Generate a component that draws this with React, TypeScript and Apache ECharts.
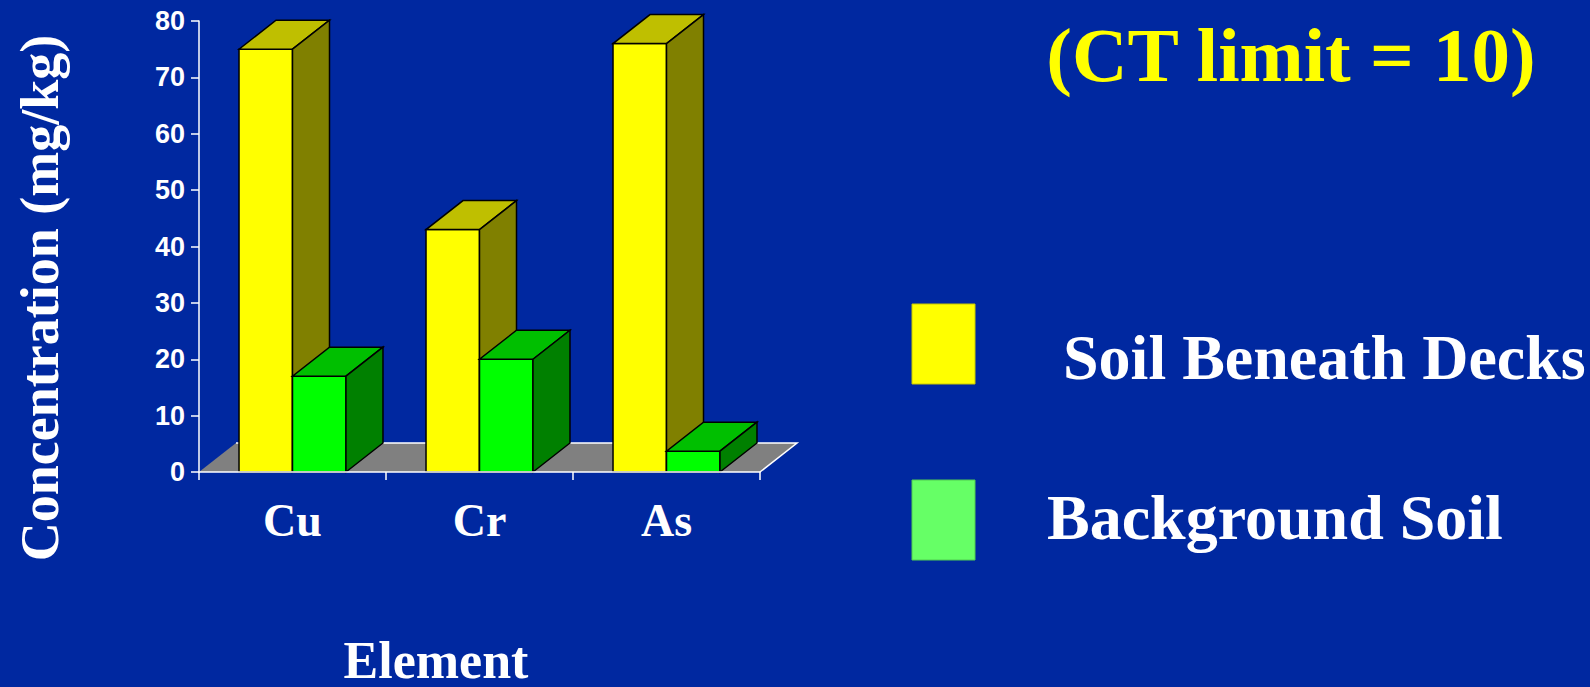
import React, { useEffect, useRef } from "react";
import * as echarts from "echarts";

// Element concentrations (mg/kg)
const categories = ["Cu", "Cr", "As"];
const seriesNames = ["Soil Beneath Decks", "Background Soil"];
const soilBeneathDecks = [75, 43, 76];
const backgroundSoil = [17, 20, 3.7];

const titleText = "(CT limit = 10)";
const yAxisTitle = "Concentration (mg/kg)";
const xAxisTitle = "Element";

// 3D look: depth offset of bars and floor, and bar width as share of a category
const DEPTH_X = 37;
const DEPTH_Y = -29;
const BAR_FRACTION = 0.286;

const BG = "#0028A0";
const SERIF = '"Liberation Serif", "Times New Roman", serif';
const SANS = '"Liberation Sans", Arial, sans-serif';

const yellowFaces = { front: "#FFFF00", top: "#BFBF00", side: "#808000" };
const greenFaces = { front: "#00FF00", top: "#00BF00", side: "#008000" };

function barRenderer(slot: number, faces: { front: string; top: string; side: string }) {
  return (params: any, api: any) => {
    const idx = api.value(0);
    const val = api.value(1);
    const [cx, yTop] = api.coord([idx, val]);
    const yBase = api.coord([idx, 0])[1];
    const bw = api.size([1, 0])[0] * BAR_FRACTION;
    const x0 = cx + slot * bw;
    const x1 = x0 + bw;
    const edge = { stroke: "#000000", lineWidth: 1.5, lineJoin: "miter" };
    return {
      type: "group",
      children: [
        {
          type: "polygon",
          shape: { points: [[x0, yBase], [x1, yBase], [x1, yTop], [x0, yTop]] },
          style: { fill: faces.front, ...edge },
        },
        {
          type: "polygon",
          shape: {
            points: [
              [x0, yTop],
              [x1, yTop],
              [x1 + DEPTH_X, yTop + DEPTH_Y],
              [x0 + DEPTH_X, yTop + DEPTH_Y],
            ],
          },
          style: { fill: faces.top, ...edge },
        },
        {
          type: "polygon",
          shape: {
            points: [
              [x1, yBase],
              [x1 + DEPTH_X, yBase + DEPTH_Y],
              [x1 + DEPTH_X, yTop + DEPTH_Y],
              [x1, yTop],
            ],
          },
          style: { fill: faces.side, ...edge },
        },
      ],
    };
  };
}

function floorRenderer(params: any) {
  const cs = params.coordSys;
  const xl = cs.x;
  const xr = cs.x + cs.width;
  const yb = cs.y + cs.height;
  return {
    type: "group",
    children: [
      {
        type: "polygon",
        shape: {
          points: [
            [xl, yb],
            [xr, yb],
            [xr + DEPTH_X, yb + DEPTH_Y],
            [xl + DEPTH_X, yb + DEPTH_Y],
          ],
        },
        style: { fill: "#808080", stroke: "none" },
      },
      {
        type: "polyline",
        shape: {
          points: [
            [xl + DEPTH_X, yb + DEPTH_Y],
            [xr + DEPTH_X, yb + DEPTH_Y],
            [xr, yb],
          ],
        },
        style: { stroke: "#FFFFFF", lineWidth: 1.5, fill: "none" },
      },
    ],
  };
}

export default function App() {
  const ref = useRef<HTMLDivElement>(null);

  useEffect(() => {
    if (!ref.current) return;
    const chart = echarts.init(ref.current, undefined, { renderer: "svg" });

    const option: any = {
      animation: false,
      backgroundColor: BG,
      grid: { left: 199, top: 21, width: 561, height: 451 },
      xAxis: {
        type: "category",
        data: categories,
        boundaryGap: true,
        z: 5,
        axisLine: { lineStyle: { color: "#FFFFFF", width: 1.5 } },
        axisTick: { show: true, length: 8, alignWithLabel: false, lineStyle: { color: "#FFFFFF", width: 1.5 } },
        axisLabel: {
          color: "#FFFFFF",
          fontFamily: SERIF,
          fontWeight: "bold",
          fontSize: 46,
          margin: 25,
        },
        splitLine: { show: false },
      },
      yAxis: {
        type: "value",
        min: 0,
        max: 80,
        interval: 10,
        axisLine: { show: true, lineStyle: { color: "#FFFFFF", width: 1.5 } },
        axisTick: { show: true, length: 8, lineStyle: { color: "#FFFFFF", width: 1.5 } },
        axisLabel: {
          color: "#FFFFFF",
          fontFamily: SANS,
          fontWeight: "bold",
          fontSize: 27,
          margin: 14,
        },
        splitLine: { show: false },
      },
      series: [
        {
          type: "custom",
          name: "floor",
          z: 1,
          clip: false,
          silent: true,
          data: [[0, 0]],
          renderItem: floorRenderer,
        },
        {
          type: "custom",
          name: seriesNames[0],
          z: 2,
          clip: false,
          encode: { x: 0, y: 1 },
          data: categories.map((_, i) => [i, soilBeneathDecks[i]]),
          renderItem: barRenderer(-1, yellowFaces),
        },
        {
          type: "custom",
          name: seriesNames[1],
          z: 2,
          clip: false,
          encode: { x: 0, y: 1 },
          data: categories.map((_, i) => [i, backgroundSoil[i]]),
          renderItem: barRenderer(0, greenFaces),
        },
      ],
      graphic: [
        {
          type: "text",
          x: 1291,
          y: 55,
          style: {
            text: titleText,
            fill: "#FFFF00",
            fontFamily: SERIF,
            fontWeight: "bold",
            fontSize: 77,
            align: "center",
            verticalAlign: "middle",
          },
        },
        {
          type: "text",
          x: 40,
          y: 298,
          rotation: Math.PI / 2,
          style: {
            text: yAxisTitle,
            fill: "#FFFFFF",
            fontFamily: SERIF,
            fontWeight: "bold",
            fontSize: 54,
            align: "center",
            verticalAlign: "middle",
          },
        },
        {
          type: "text",
          x: 436,
          y: 660,
          style: {
            text: xAxisTitle,
            fill: "#FFFFFF",
            fontFamily: SERIF,
            fontWeight: "bold",
            fontSize: 52,
            align: "center",
            verticalAlign: "middle",
          },
        },
        {
          type: "rect",
          shape: { x: 912, y: 304, width: 63, height: 80 },
          style: { fill: "#FFFF00", stroke: "#C8C800", lineWidth: 1 },
        },
        {
          type: "text",
          x: 1063,
          y: 357,
          style: {
            text: seriesNames[0],
            fill: "#FFFFFF",
            fontFamily: SERIF,
            fontWeight: "bold",
            fontSize: 64,
            align: "left",
            verticalAlign: "middle",
          },
        },
        {
          type: "rect",
          shape: { x: 912, y: 480, width: 63, height: 80 },
          style: { fill: "#66FF66", stroke: "#50CC50", lineWidth: 1 },
        },
        {
          type: "text",
          x: 1047,
          y: 517,
          style: {
            text: seriesNames[1],
            fill: "#FFFFFF",
            fontFamily: SERIF,
            fontWeight: "bold",
            fontSize: 64,
            align: "left",
            verticalAlign: "middle",
          },
        },
      ],
    };

    chart.setOption(option);
    return () => chart.dispose();
  }, []);

  return (
    <div
      ref={ref}
      style={{ position: "fixed", left: 0, top: 0, width: 1590, height: 687 }}
    />
  );
}
